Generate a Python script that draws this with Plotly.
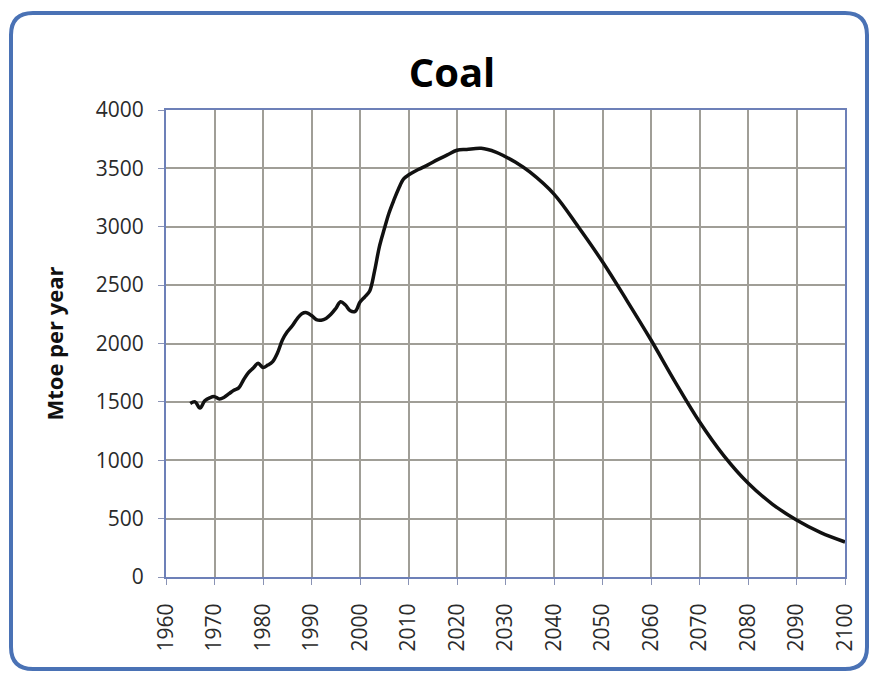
import plotly.graph_objects as go

# coal production history + projection (Mtoe per year)
years = [1965, 1966, 1967, 1968, 1969, 1970, 1971, 1972, 1973, 1974, 1975,
         1976, 1977, 1978, 1979, 1980, 1981, 1982, 1983, 1984, 1985, 1986,
         1987, 1988, 1989, 1990, 1991, 1992, 1993, 1994, 1995, 1996, 1997,
         1998, 1999, 2000, 2001, 2002, 2003, 2004, 2005, 2006, 2007, 2008,
         2009, 2010, 2012, 2014, 2016, 2018, 2020, 2022, 2025, 2028, 2030,
         2032, 2035, 2040, 2045, 2050, 2055, 2060, 2065, 2070, 2075, 2080,
         2085, 2090, 2095, 2100]
coal = [1487, 1500, 1447, 1510, 1535, 1545, 1525, 1540, 1570, 1600, 1620,
        1690, 1750, 1790, 1830, 1795, 1815, 1845, 1920, 2030, 2100, 2150,
        2210, 2255, 2264, 2240, 2205, 2200, 2215, 2250, 2300, 2358, 2330,
        2280, 2275, 2355, 2400, 2450, 2620, 2830, 2980, 3120, 3230, 3330,
        3410, 3443, 3490, 3530, 3575, 3615, 3655, 3662, 3672, 3640, 3600,
        3555, 3470, 3280, 3000, 2700, 2370, 2030, 1670, 1330, 1040, 805,
        625, 488, 380, 300]

x_ticks = list(range(1960, 2101, 10))
y_ticks = list(range(0, 4001, 500))

# page body adds 8px margin, so figure is 16px smaller than the window
W, H = 862, 663
ml, mr, mt, mb = 158, 25, 102, 94
pw, ph = W - ml - mr, H - mt - mb


def px(x):
    return (x - ml) / pw


def py(y):
    return (H - mb - y) / ph


# rounded frame around the whole chart
fl, ft, fr, fb, rad = 3, 5, 859, 661, 22
frame = (f"M {px(fl + rad)},{py(ft)} L {px(fr - rad)},{py(ft)} "
         f"Q {px(fr)},{py(ft)} {px(fr)},{py(ft + rad)} "
         f"L {px(fr)},{py(fb - rad)} Q {px(fr)},{py(fb)} {px(fr - rad)},{py(fb)} "
         f"L {px(fl + rad)},{py(fb)} Q {px(fl)},{py(fb)} {px(fl)},{py(fb - rad)} "
         f"L {px(fl)},{py(ft + rad)} Q {px(fl)},{py(ft)} {px(fl + rad)},{py(ft)} Z")

fig = go.Figure()
fig.add_trace(go.Scatter(x=years, y=coal, mode='lines', line_shape='spline',
                         line=dict(color='#111111', width=3.5), showlegend=False))

fig.add_shape(type='path', path=frame, xref='paper', yref='paper',
              line=dict(color='#4a72b5', width=4), fillcolor='white', layer='below')

fig.update_layout(
    width=W, height=H,
    margin=dict(l=ml, r=mr, t=mt, b=mb),
    paper_bgcolor='white',
    plot_bgcolor='#edeae0',
    font=dict(family='Open Sans, Noto Sans, sans-serif', color='#222222'),
    title=dict(text='<b>Coal</b>', x=(452 - 8) / W, xref='container', xanchor='center',
               y=1 - 65 / H, yref='container', yanchor='middle',
               font=dict(size=40, color='#000000', family='Open Sans, sans-serif')),
)

fig.update_xaxes(range=[1960, 2100], tickvals=x_ticks, tickangle=-90,
                 tickfont=dict(size=21, color='#2a2a2a'),
                 showgrid=True, gridcolor='#a09e97', gridwidth=1.6,
                 showline=True, linecolor='#6d80b8', linewidth=2, mirror=True,
                 ticks='outside', ticklen=6, tickcolor='#8a93b5', zeroline=False,
                 ticklabelstandoff=10)
fig.update_yaxes(range=[0, 4000], tickvals=y_ticks,
                 tickfont=dict(size=21, color='#2a2a2a'),
                 title=dict(text='<b>Mtoe per year</b>', font=dict(size=22, color='#111111'),
                            standoff=26),
                 showgrid=True, gridcolor='#a09e97', gridwidth=1.6,
                 showline=True, linecolor='#6d80b8', linewidth=2, mirror=True,
                 ticks='outside', ticklen=6, tickcolor='#8a93b5', zeroline=False,
                 ticklabelstandoff=10)

fig.write_html("out.html")
